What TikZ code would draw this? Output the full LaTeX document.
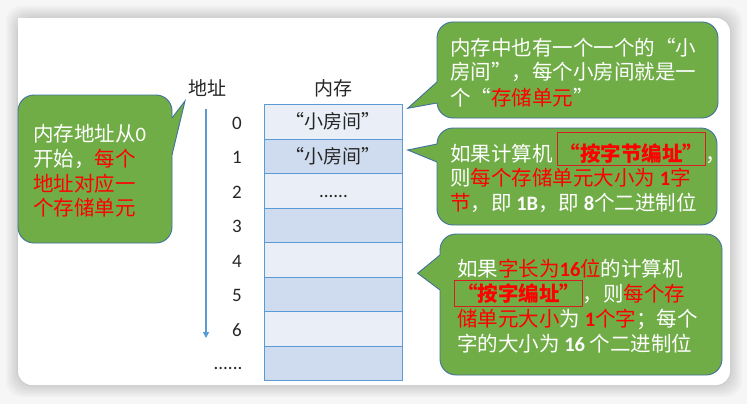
\documentclass[tikz,border=0pt]{standalone}
\usepackage{fontspec}
\setmainfont{Noto Sans CJK SC}
\newfontfamily\lat{Carlito}
\usetikzlibrary{arrows.meta}
\definecolor{cgreen}{HTML}{70AD47}
\definecolor{cborder}{HTML}{41719C}
\definecolor{cellb}{HTML}{5B9BD5}
\definecolor{celll}{HTML}{E9EEF7}
\definecolor{celld}{HTML}{CFDBEE}
\definecolor{hred}{HTML}{FF0000}
\definecolor{boxred}{HTML}{D42020}
\definecolor{pagebg}{HTML}{F6F6F6}
\newcommand\redt[1]{\textcolor{hred}{#1}}
\newcommand\hbx[3]{{\setlength\fboxsep{2pt}\setlength\fboxrule{0.8pt}\fcolorbox{boxred}{cgreen}{\rule[-#2]{0pt}{#1}\textcolor{hred}{\bfseries #3}}}}
\begin{document}
\begin{tikzpicture}[x=1pt,y=-1pt,
  cell/.style={draw=cellb, line width=0.9pt, minimum width=138pt, minimum height=34.5pt, inner sep=0pt, anchor=north west},
  room/.style={inner sep=0pt, font=\fontsize{19}{19}\selectfont, text=black!85},
  addr/.style={inner sep=0pt, font=\lat\fontsize{19}{19}\selectfont, text=black!85},
  lab/.style={inner sep=0pt, font=\fontsize{19}{19}\selectfont, text=black!85},
  txt/.style={anchor=base west, inner sep=0pt, text=white, font=\fontsize{20.5}{24.5}\selectfont},
  callout/.style={fill=cgreen, draw=cborder, line width=0.9pt, rounded corners=16pt},
  tail/.style={draw=cborder, line width=0.9pt, line join=miter}
]
\useasboundingbox (0,0) rectangle (747,404);
% page and panel
\fill[pagebg] (0,0) rectangle (747,404);
\foreach \d in {12,10,8,6,4,2,1} {
  \fill[black,opacity=0.022,rounded corners=16pt] (18-\d,18-\d) rectangle (730+\d,385+\d);
}
\fill[white,rounded corners=14pt] (18,18) rectangle (730,385);
\fill[white] (18,18) rectangle (40,40);

% memory cells
\foreach \i in {0,2,4,6} \node[cell,fill=celll] (c\i) at (264,104+34.5*\i) {};
\foreach \i in {1,3,5,7} \node[cell,fill=celld] (c\i) at (264,104+34.5*\i) {};
\node[room] (r0) at (c0.center) {“小房间”};
\node[room] (r1) at (c1.center) {“小房间”};
\node[addr, anchor=base] (r2) at ([yshift=-7pt]c2.center) {......};

% labels
\node[lab] (laddr) at (207,88) {地址};
\node[lab] (lmem) at (333,88) {内存};

% addresses
\foreach \i in {0,...,6} \node[addr] (n\i) at (237,123+34.5*\i) {\i};
\node[addr, anchor=base] (ndots) at (228,369) {......};

% arrow
\coordinate (as) at (206,109);
\coordinate (ae) at (206,338);
\draw[cellb, line width=1.2pt, -{Triangle[length=6pt,width=6pt]}] (as) -- (ae);

% left callout
\filldraw[callout] (18,95) rectangle (172,243);
\fill[cgreen] (172,118) -- (185,101) -- (172,155) -- (165,155) -- (165,118) -- cycle;
\draw[tail] (172,118) -- (185,101) -- (172,155);
\node[txt] (la1) at (33,141) {内存地址从{\lat 0}};
\node[txt] (la2) at (33,166) {开始，\redt{每个}};
\node[txt] (la3) at (33,191) {\redt{地址对应一}};
\node[txt] (la4) at (33,215) {\redt{个存储单元}};

% top-right callout
\filldraw[callout] (437,22) rectangle (718,118);
\fill[cgreen] (437,82) -- (407.7,108.3) -- (437,103) -- (444,103) -- (444,82) -- cycle;
\draw[tail] (437,82) -- (407.7,108.3) -- (437,103);
\node[txt] (ta1) at (450,56) {内存中也有一个一个的“小};
\node[txt] (ta2) at (450,80) {房间”，每个小房间就是一};
\node[txt] (ta3) at (450,105) {个“\redt{存储单元}”};

% middle-right callout
\filldraw[callout] (437,128) rectangle (717,225);
\fill[cgreen] (437,144) -- (407.7,150) -- (437,162) -- (444,162) -- (444,144) -- cycle;
\draw[tail] (437,144) -- (407.7,150) -- (437,162);
\node[txt] (ma1) at (450,161) {如果计算机\hspace{4pt}\hbx{28pt}{2pt}{“按字节编址”}，};
\node[txt] (ma2) at (450,185) {则\redt{每个存储单元大小为 {\lat\bfseries 1}字}};
\node[txt] (ma3) at (450,210) {\redt{节}，即 {\lat\bfseries 1B}，即 {\lat\bfseries 8}个二进制位};

% bottom-right callout
\filldraw[callout] (440,234) rectangle (722,375);
\fill[cgreen] (440,255) -- (417.7,273.3) -- (440,290) -- (447,290) -- (447,255) -- cycle;
\draw[tail] (440,255) -- (417.7,273.3) -- (440,290);
\node[txt] (ba1) at (457,276) {如果\redt{字长为{\lat\bfseries 16}位}的计算机};
\node[txt] (ba2) at (454,301) {\hbx{21pt}{3pt}{“按字编址”}，则\redt{每个存}};
\node[txt] (ba3) at (457,326) {\redt{储单元大小}为 \redt{{\lat\bfseries 1}个字}；每个};
\node[txt] (ba4) at (457,351) {字的大小为 {\lat\bfseries 16} 个二进制位};
\end{tikzpicture}
\end{document}
